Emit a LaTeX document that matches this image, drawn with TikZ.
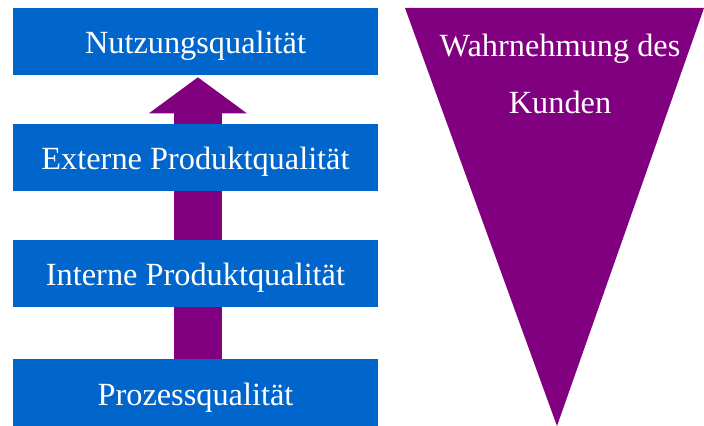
\documentclass[tikz,border=0pt]{standalone}
\usepackage{fontspec}
\setmainfont{Liberation Serif}
\usetikzlibrary{arrows.meta, backgrounds}
\definecolor{qualBlue}{HTML}{0066CC}
\definecolor{qualPurple}{HTML}{800080}
\tikzset{
    >=Stealth,
    % Shapes
    level/.style={rectangle, fill=qualBlue, text=white, minimum width=9.125cm,
                  minimum height=1.675cm, inner sep=0pt,
                  text height=0.7cm, text depth=0.1cm,
                  font=\fontsize{23}{27}\selectfont},
    % Flow & Labels
    rise/.style={qualPurple, line width=1.2cm,
                 -{Triangle[width=2.4cm, length=0.9cm]}},
    lbl/.style={text=white, align=center, font=\fontsize{23}{41}\selectfont}
}
\begin{document}
\begin{tikzpicture}[x=0.025cm, y=-0.025cm]
\useasboundingbox (0,0) rectangle (704,426);

\node[level] (nutz) at (195.5,41.5) {Nutzungsqualität};
\node[level] (ext) at (195.5,157.5) {Externe Produktqualität};
\node[level] (int) at (195.5,273.5) {Interne Produktqualität};
\node[level] (proz) at (195.5,393) {Prozessqualität};

\begin{scope}[on background layer]
\draw[rise] ([xshift=0.06cm]proz.center) -- ([xshift=0.06cm, yshift=-0.05cm]nutz.south);
\end{scope}

% Wahrnehmung
\fill[qualPurple] (405,8) -- (704,8) -- (557,426) -- cycle;
\node[lbl] (kunden) at (560,74) {Wahrnehmung des\\Kunden};

\end{tikzpicture}
\end{document}
